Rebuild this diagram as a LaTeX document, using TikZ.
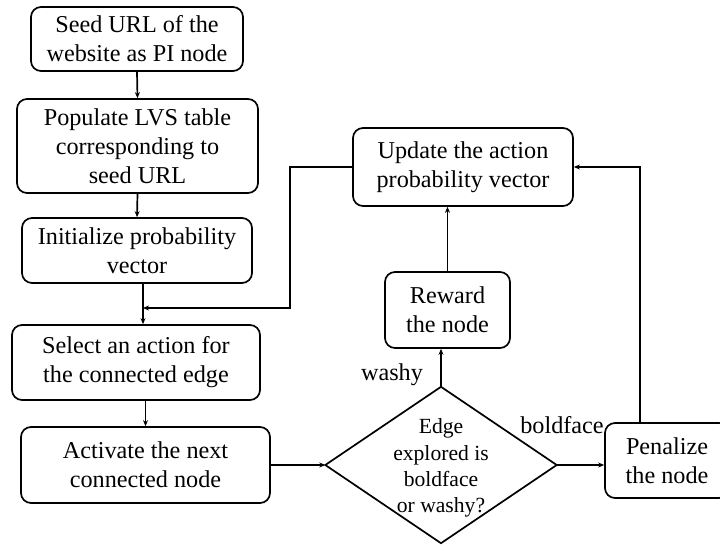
\documentclass[tikz,border=0pt]{standalone}
\usepackage{fontspec}
\setmainfont{Liberation Serif}
\usetikzlibrary{arrows.meta}
\begin{document}
\begin{tikzpicture}[x=1bp,y=-1bp,
  box/.style={draw,line width=1.7bp,rounded corners=10bp,inner sep=0pt,align=center,
    font=\fontsize{24.3}{29}\selectfont},
  lbl/.style={inner sep=0pt,font=\fontsize{24.3}{29}\selectfont},
  arr/.style={line width=1.7bp,-{Stealth[length=6bp,width=5bp]}}]
\useasboundingbox (0,0) rectangle (720,546);
\node[box,minimum width=212bp,minimum height=64bp] (b1) at (137,39) {Seed URL of the\\website as PI node};
\node[box,minimum width=241bp,minimum height=94bp] (b2) at (137.5,146) {Populate LVS table\\corresponding to\\seed URL};
\node[box,minimum width=230bp,minimum height=65bp] (b3) at (137,250.5) {Initialize probability\\vector};
\node[box,minimum width=248bp,minimum height=75bp] (b4) at (136,362.5) {Select an action for\\the connected edge};
\node[box,minimum width=249bp,minimum height=76bp] (b5) at (145.5,465) {Activate the next\\connected node};
\node[box,minimum width=220bp,minimum height=78bp] (upd) at (463,167) {Update the action\\probability vector};
\node[box,minimum width=125bp,minimum height=76bp] (rew) at (447.5,310) {Reward\\the node};
\node[box,minimum width=124bp,minimum height=75bp] (pen) at (667,460.5) {Penalize\\the node};
\node[inner sep=0pt,minimum width=231bp,minimum height=156bp] (dia) at (441,465) {};
\draw[line width=1.7bp,line join=miter] (dia.west) -- (dia.north) -- (dia.east) -- (dia.south) -- cycle;
\node[inner sep=0pt,align=center,font=\fontsize{21.7}{26.3}\selectfont] (dt) at (441,468) {Edge\\explored is\\boldface\\or washy?};
\node[lbl] (lw) at (392,375) {washy};
\node[lbl] (lb) at (562,425) {boldface};
\coordinate (j) at (143,308);
\coordinate (turn) at (290,308);
\coordinate (pt) at (640,167);
\draw[arr] (b1.south) -- (b2.north);
\draw[arr] (b2.south) -- (b3.north);
\draw[arr] (j |- b3.south) -- (j |- b4.north);
\draw[arr] (b5.north |- b4.south) -- (b5.north);
\draw[arr] (b5.east) -- (dia.west);
\draw[arr] (upd.west) -| (turn) -- (j);
\draw[arr] (dia.north) -- (dia.north |- rew.south);
\draw[arr] (rew.north) -- (rew.north |- upd.south);
\draw[arr] (dia.east) -- (dia.east -| pen.west);
\draw[arr] (pt |- pen.north) -- (pt) -- (upd.east);
\end{tikzpicture}
\end{document}
